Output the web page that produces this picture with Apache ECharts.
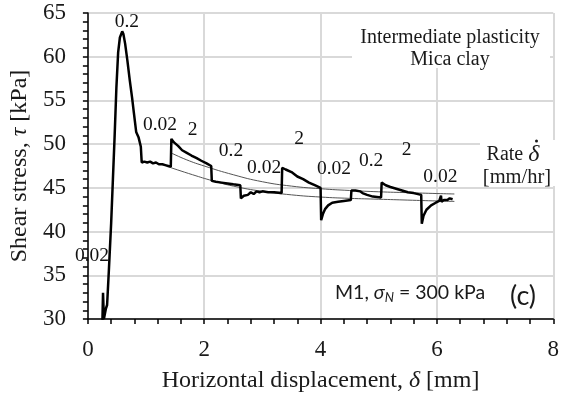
<!DOCTYPE html>
<html>
<head>
<meta charset="utf-8">
<script src="https://cdn.jsdelivr.net/npm/echarts@6/dist/echarts.min.js"></script>
<style>
html,body{margin:0;padding:0;background:#fff;}
#chart{width:562px;height:398px;}
</style>
</head>
<body>
<div id="chart"></div>
<script>
// ---- Data ----
const xTicks = [0, 2, 4, 6, 8];
const yTicks = [30, 35, 40, 45, 50, 55, 60, 65];

const dispX = [0.25,0.26,0.275,0.30,0.31,0.33,0.36,0.40,0.43,0.46,0.49,0.52,0.55,0.59,0.61,0.64,0.68,0.72,0.76,0.79,0.83,0.87,0.91,
  0.925,0.97,1.02,1.07,1.12,1.17,1.22,1.28,1.33,1.38,1.425,
  1.435,1.48,1.55,1.62,1.70,1.78,1.87,1.95,2.04,2.12,
  2.13,2.2,2.3,2.4,2.5,2.62,
  2.63,2.66,2.68,2.75,2.8,2.85,2.9,2.95,3.0,3.1,3.2,3.33,
  3.34,3.4,3.5,3.6,3.7,3.8,3.9,4.0,
  4.01,4.04,4.08,4.13,4.2,4.3,4.4,4.52,
  4.53,4.6,4.68,4.72,4.8,4.9,5.04,
  5.05,5.12,5.2,5.3,5.4,5.5,5.6,5.73,
  5.74,5.77,5.82,5.9,5.98,6.04,6.07,6.08,6.12,6.18,6.22,6.27];
const tauY = [29.9,33.0,30.0,29.9,31.2,31.6,35.5,41.0,46.0,51.0,56.5,60.5,62.2,62.9,62.6,61.5,59.5,57.3,55.3,53.6,51.4,50.8,49.7,
  47.9,48.0,47.9,48.0,47.8,47.9,47.7,47.7,47.6,47.5,47.4,
  50.6,50.2,49.8,49.3,49.0,48.7,48.4,48.1,47.8,47.5,
  45.8,45.7,45.6,45.5,45.4,45.3,
  43.8,43.8,44.1,44.2,44.5,44.3,44.6,44.5,44.6,44.5,44.5,44.4,
  47.3,47.1,46.8,46.3,46.0,45.6,45.3,45.0,
  41.3,42.0,42.6,43.0,43.3,43.4,43.5,43.6,
  44.7,44.7,44.6,44.4,44.2,44.0,43.9,
  45.6,45.3,45.1,44.9,44.7,44.5,44.4,44.2,
  40.9,41.8,42.5,43.0,43.3,43.5,44.1,43.4,43.6,43.6,43.8,43.7];

const upperFitX = [1.43,1.7,2.0,2.5,3.0,3.5,4.0,4.5,5.0,5.5,6.0,6.3];
const upperFitY = [49.0,48.2,47.5,46.5,45.7,45.2,44.9,44.7,44.55,44.45,44.35,44.3];
const lowerFitX = [1.43,1.8,2.15,2.5,3.0,3.5,4.0,4.5,5.0,5.5,6.0,6.3];
const lowerFitY = [47.3,46.5,45.8,45.2,44.6,44.2,43.95,43.8,43.7,43.6,43.5,43.45];

const rateLabelX = [0.67,1.24,1.80,2.46,3.03,3.63,4.23,4.87,5.48,6.06,0.07];
const rateLabelY = [64.0,52.2,51.6,49.2,47.3,50.6,47.2,48.1,49.4,46.3,37.2];
const rateLabelText = ['0.2','0.02','2','0.2','0.02','2','0.02','0.2','2','0.02','0.02'];

// ---- Build ----
const zip = (a, b) => a.map((v, i) => [v, b[i]]);
const serif = 'Liberation Serif';
const textColor = '#1a1a1a';

const chart = echarts.init(document.getElementById('chart'), null, {renderer: 'canvas'});
chart.setOption({
  animation: false,
  backgroundColor: '#fff',
  grid: {left: 86, right: 1, top: 13, bottom: 77},
  xAxis: {
    type: 'value', min: xTicks[0], max: xTicks[xTicks.length - 1], interval: 2,
    name: 'Horizontal displacement, {i|δ} [mm]',
    nameLocation: 'middle', nameGap: 50,
    nameTextStyle: {fontFamily: serif, fontSize: 24, color: textColor,
      rich: {i: {fontFamily: serif, fontSize: 24, fontStyle: 'italic', color: textColor}}},
    axisLine: {lineStyle: {color: '#000', width: 1.5}},
    axisTick: {show: true, inside: false, length: 5, lineStyle: {color: '#000', width: 1.5}},
    minorTick: {show: true, splitNumber: 5, length: 5, lineStyle: {color: '#000', width: 1.5}},
    axisLabel: {fontFamily: serif, fontSize: 23, color: textColor, margin: 19},
    splitLine: {show: true, lineStyle: {color: '#d9d9d9', width: 2}}
  },
  yAxis: {
    type: 'value', min: yTicks[0], max: yTicks[yTicks.length - 1], interval: 5,
    name: 'Shear stress, {i|τ} [kPa]',
    nameLocation: 'middle', nameGap: 55, nameRotate: 90,
    nameTextStyle: {fontFamily: serif, fontSize: 24, color: textColor,
      rich: {i: {fontFamily: serif, fontSize: 24, fontStyle: 'italic', color: textColor}}},
    axisLine: {show: true, lineStyle: {color: '#000', width: 1.5}},
    axisTick: {show: true, inside: false, length: 5, lineStyle: {color: '#000', width: 1.5}},
    minorTick: {show: true, splitNumber: 5, length: 5, lineStyle: {color: '#000', width: 1.5}},
    axisLabel: {fontFamily: serif, fontSize: 23, color: textColor, margin: 22},
    splitLine: {show: true, lineStyle: {color: '#d9d9d9', width: 2}}
  },
  series: [
    {type: 'line', data: zip(upperFitX, upperFitY), showSymbol: false, smooth: true,
     lineStyle: {color: '#555', width: 1}, z: 2},
    {type: 'line', data: zip(lowerFitX, lowerFitY), showSymbol: false, smooth: true,
     lineStyle: {color: '#555', width: 1}, z: 2},
    {type: 'line', data: zip(dispX, tauY), showSymbol: false,
     lineStyle: {color: '#000', width: 2.5}, z: 3},
    {type: 'scatter', symbolSize: 0, z: 4, itemStyle: {opacity: 1},
     data: rateLabelX.map((x, i) => ({value: [x, rateLabelY[i]], name: rateLabelText[i]})),
     label: {show: true, position: 'inside', formatter: p => p.name, opacity: 1,
       fontFamily: serif, fontSize: 19.5, color: '#111'}}
  ],
  graphic: [
    {type: 'rect', x: 352, y: 14, z: 10, shape: {width: 198, height: 54}, style: {fill: '#fff'}},
    {type: 'text', x: 450, y: 38, z: 11,
     style: {text: 'Intermediate plasticity', fontFamily: serif, fontSize: 20, fill: textColor,
       align: 'center', verticalAlign: 'middle'}},
    {type: 'text', x: 450, y: 60, z: 11,
     style: {text: 'Mica clay', fontFamily: serif, fontSize: 20, fill: textColor,
       align: 'center', verticalAlign: 'middle'}},
    {type: 'rect', x: 480, y: 140, z: 10, shape: {width: 78, height: 46}, style: {fill: '#fff'}},
    {type: 'text', x: 513, y: 155, z: 11,
     style: {text: 'Rate {i|δ}', fontFamily: serif, fontSize: 20, fill: textColor,
       align: 'center', verticalAlign: 'middle',
       rich: {i: {fontFamily: serif, fontSize: 24, fontStyle: 'italic', fill: textColor}}}},
    {type: 'circle', x: 0, y: 0, z: 11, shape: {cx: 536.5, cy: 141, r: 1.5}, style: {fill: textColor}},
    {type: 'text', x: 517, y: 178, z: 11,
     style: {text: '[mm/hr]', fontFamily: serif, fontSize: 20.5, fill: textColor,
       align: 'center', verticalAlign: 'middle'}},
    {type: 'text', x: 335, y: 293, z: 10,
     style: {text: 'M1, {i|σ}{sub|N} = 300 kPa', fontFamily: 'Lato', fontSize: 19.5,
       fill: textColor, verticalAlign: 'middle',
       rich: {i: {fontFamily: 'Lato', fontSize: 19.5, fontStyle: 'italic', fill: textColor},
              sub: {fontFamily: 'Lato', fontSize: 13, fontStyle: 'italic', fill: textColor, padding: [10, 0, 0, 0]}}}},
    {type: 'text', x: 510, y: 296, z: 10,
     style: {text: '(c)', fontFamily: 'Lato', fontSize: 27, fill: textColor, verticalAlign: 'middle'}}
  ]
});
</script>
</body>
</html>
